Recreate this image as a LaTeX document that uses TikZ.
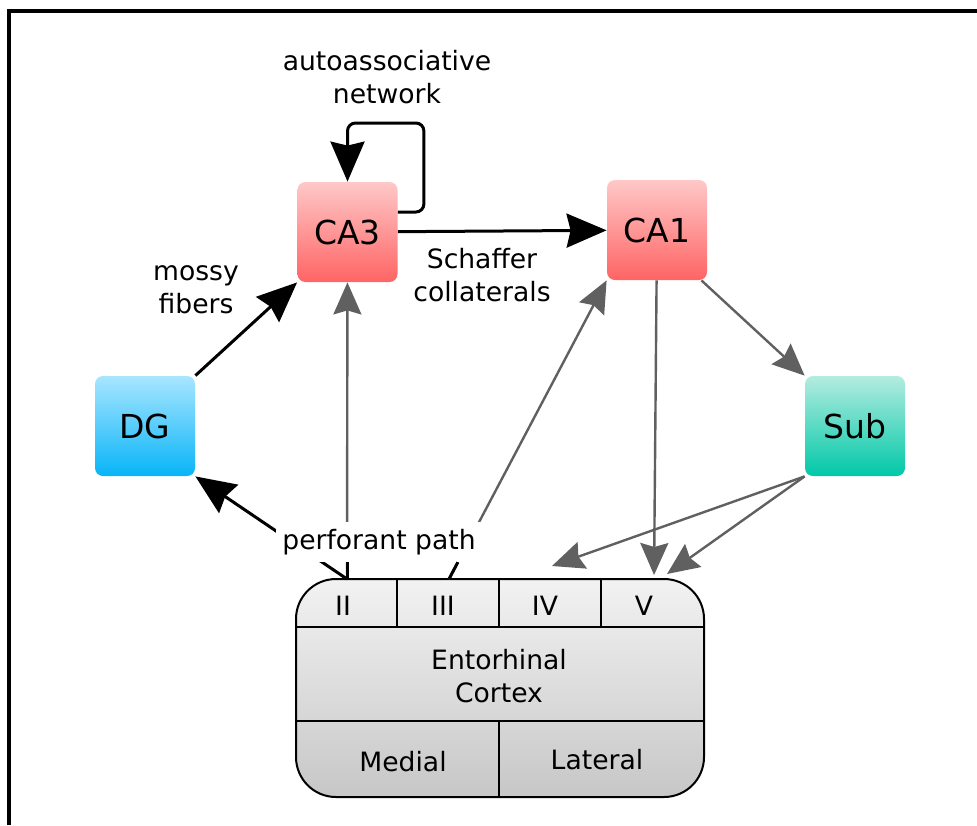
\documentclass[tikz,border=0pt]{standalone}
\usepackage{fontspec}
\setmainfont{DejaVu Sans}
\usetikzlibrary{positioning, arrows.meta, calc}

\definecolor{cabot}{HTML}{FF6464}
\definecolor{catop}{HTML}{FFC8C8}
\definecolor{dgbot}{HTML}{08B4F8}
\definecolor{dgtop}{HTML}{A8E6FF}
\definecolor{subbot}{HTML}{00C8A8}
\definecolor{subtop}{HTML}{B4ECE0}
\definecolor{arrowgray}{HTML}{606060}

\tikzset{
  region/.style={rounded corners=4pt, minimum width=50pt, minimum height=50pt, inner sep=0pt,
    font=\fontsize{16.5}{19}\selectfont},
  label/.style={align=center, font=\fontsize{13.3}{16.5}\selectfont},
  blackarrow/.style={-{Stealth[length=20pt, width=17pt, inset=2pt]}, line width=1.5pt, black},
  grayarrow/.style={-{Stealth[length=16pt, width=14pt, inset=2pt]}, line width=1.2pt, arrowgray},
  divider/.style={line width=0.6pt, black}
}

\begin{document}
\begin{tikzpicture}[x=0.5pt, y=-0.5pt]
    \useasboundingbox (0,0) rectangle (977,825);

    % Frame
    \draw[line width=1.8pt] (9,825) -- (9,11) -- (977,11);

    % Regions
    \node[region, top color=catop, bottom color=cabot] (CA3) at (347.5,232) {CA3};
    \node[region, top color=catop, bottom color=cabot] (CA1) at (657,230) {CA1};
    \node[region, top color=dgtop, bottom color=dgbot] (DG) at (145,426) {DG};
    \node[region, top color=subtop, bottom color=subbot] (Sub) at (855,426) {Sub};

    % Entorhinal cortex
    \node[draw, line width=1pt, rounded corners=20pt, minimum width=204pt, minimum height=109pt,
      inner sep=0pt, top color=black!5, bottom color=black!22] (EC) at (500,688) {};
    \draw[divider] (EC.west |- 0,627) -- (EC.east |- 0,627);
    \draw[divider] (EC.west |- 0,721) -- (EC.east |- 0,721);
    \foreach \x in {397, 499, 601} {
      \draw[divider] (\x,579) -- (\x,627);
    }
    \draw[divider] (499,721) -- (499,797);

    % Layers
    \foreach \n/\x in {II/343, III/443, IV/545, V/644} {
      \node[label] (layer\n) at (\x,606) {\n};
    }
    \node[label] (cortex) at (499,676) {Entorhinal\\Cortex};
    \node[label] (medial) at (403,762) {Medial};
    \node[label] (lateral) at (597,760) {Lateral};

    \coordinate (ecII) at (347,579);
    \coordinate (ecIII) at (449,579);
    \coordinate (ecIV) at (552,566);
    \coordinate (ecV) at (654,579);
    \coordinate (ecVb) at (667,574);

    % Trisynaptic loop
    \draw[blackarrow] (DG.north east) -- (CA3.south west);
    \draw[blackarrow] (CA3) -- (CA1);
    \draw[blackarrow, rounded corners=4pt] ([yshift=10pt]CA3.east) -- ++(26,0) -- ++(0,-89) -| (CA3.north);

    % Output of CA1 and Sub
    \draw[grayarrow, shorten >=2pt] (CA1) -- (ecV);
    \draw[grayarrow] ([xshift=-3pt]CA1.south east) -- (Sub.north west);
    \draw[grayarrow] (Sub.south west) -- (ecIV);
    \draw[grayarrow] (Sub.south west) -- (ecVb);

    % Perforant path
    \draw[grayarrow] (ecII) -- (CA3);
    \draw[grayarrow] (ecIII) -- (CA1.south west);
    \draw[blackarrow] (ecII) -- (DG.south east);
    \node[label, fill=white, inner sep=3.4pt] (perforant) at (379,542) {perforant path};
    \draw[line width=1.5pt] (ecII) -- (ecII |- perforant.south);
    \draw[line width=1.5pt] (ecIII) -- ($(ecIII)!0.056!(CA1.south west)$);

    % Labels
    \node[label] (auto) at (387,77) {autoassociative\\network};
    \node[label] (mossy) at (196,290) {mossy\\fibers};
    \node[label] (schaffer) at (482,275) {Schaffer\\collaterals};
  \end{tikzpicture}
\end{document}
